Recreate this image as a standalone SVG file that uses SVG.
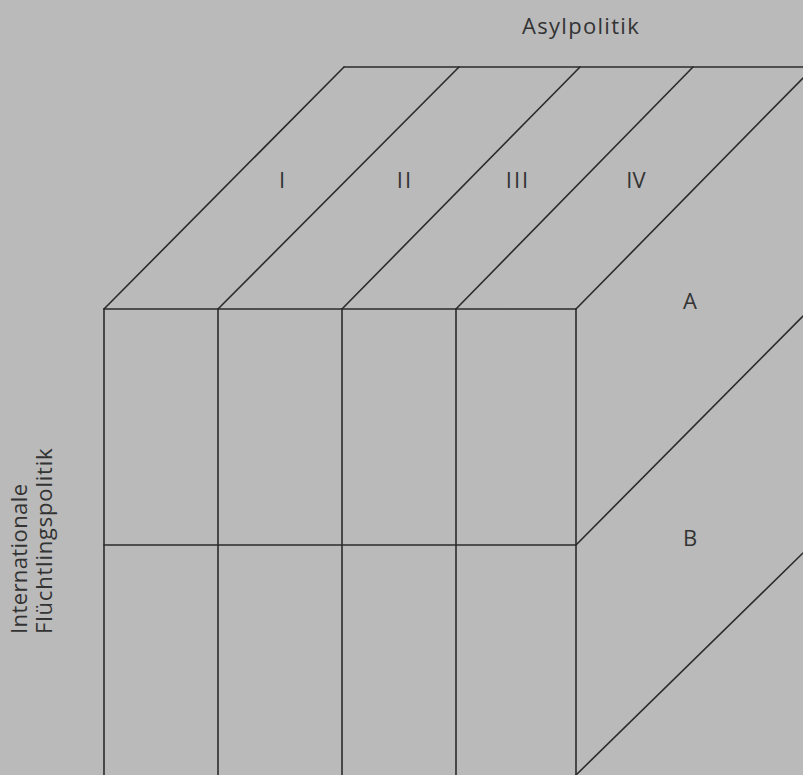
<svg xmlns="http://www.w3.org/2000/svg" width="803" height="775" viewBox="0 0 803 775">
<style>
.ln{stroke:#2b2b2b;stroke-width:1.6;fill:none;stroke-linecap:round}
.t{font-family:"Open Sans","Liberation Sans",sans-serif;fill:#333;font-size:22px}
</style>
<rect width="803" height="775" fill="#bababa"/>
<g id="connectors">
<!-- top face -->
<path class="ln" d="M344,67 H803"/>
<path class="ln" d="M104,309 L344,67"/>
<path class="ln" d="M218,309 L459,67"/>
<path class="ln" d="M342,309 L580,67"/>
<path class="ln" d="M456,309 L693,67"/>
<path class="ln" d="M576,309 L803,78"/>
<!-- front face -->
<path class="ln" d="M104,309 H576"/>
<path class="ln" d="M104,545 H576"/>
<path class="ln" d="M104,309 V775"/>
<path class="ln" d="M218,309 V775"/>
<path class="ln" d="M342,309 V775"/>
<path class="ln" d="M456,309 V775"/>
<path class="ln" d="M576,309 V775"/>
<!-- right face -->
<path class="ln" d="M576,545 L803,316"/>
<path class="ln" d="M576,775 L803,553"/>
</g>
<g id="title"><text class="t" x="581" y="34" text-anchor="middle" letter-spacing="1.3">Asylpolitik</text></g>
<g id="col-I"><text class="t" x="282" y="188" text-anchor="middle" font-size="23">I</text></g>
<g id="col-II"><text class="t" x="405" y="188" text-anchor="middle" font-size="23" letter-spacing="2">II</text></g>
<g id="col-III"><text class="t" x="518" y="188" text-anchor="middle" font-size="23" letter-spacing="2">III</text></g>
<g id="col-IV"><text class="t" x="636" y="188" text-anchor="middle" font-size="23">IV</text></g>
<g id="row-A"><text class="t" x="690" y="309" text-anchor="middle">A</text></g>
<g id="row-B"><text class="t" x="690" y="546" text-anchor="middle">B</text></g>
<g id="side-label">
<text class="t" transform="translate(27,634) rotate(-90)" font-size="24" letter-spacing="0.4">Internationale</text>
<text class="t" transform="translate(52,634) rotate(-90)" font-size="24" letter-spacing="0.8">Flüchtlingspolitik</text>
</g>
</svg>
